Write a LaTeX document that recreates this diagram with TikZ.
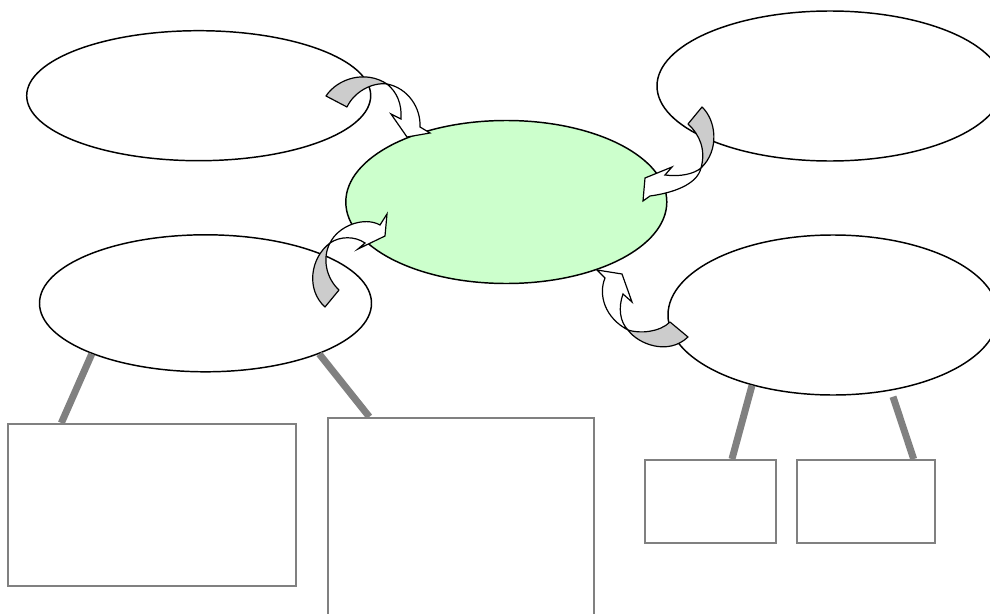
\documentclass[tikz,border=0pt]{standalone}
\usetikzlibrary{shapes.geometric,calc}
\definecolor{bubblegreen}{HTML}{CCFFCC}
\definecolor{foldgray}{HTML}{CCCCCC}
\definecolor{stemgray}{HTML}{808080}
\begin{document}
\begin{tikzpicture}[x=0.75pt,y=-0.75pt,
    bubble/.style={ellipse, draw, line width=1.1pt, inner sep=0pt},
    box/.style={rectangle, draw=stemgray, line width=1.5pt, inner sep=0pt},
    stem/.style={draw=stemgray, line width=5.25pt},
    back/.style={draw, fill=foldgray, line width=0.9pt, line join=round},
    front/.style={draw, fill=white, line width=0.9pt}]
    \useasboundingbox (0,0) rectangle (990,614);
    \node[bubble, minimum width=258pt, minimum height=97.5pt] (tl) at (198.7,95.7) {};
    \node[bubble, minimum width=259.5pt, minimum height=112.5pt] (tr) at (830,86) {};
    \node[bubble, fill=bubblegreen, minimum width=240.75pt, minimum height=122.25pt] (hub) at (506.3,202) {};
    \node[bubble, minimum width=249pt, minimum height=102.75pt] (ml) at (205.5,303.3) {};
    \node[bubble, minimum width=247.5pt, minimum height=120pt] (mr) at (833,315) {};
    \node[box, minimum width=215.8pt, minimum height=121.5pt] (b1) at (152.2,505) {};
    \node[box, minimum width=199.3pt, minimum height=166.7pt] (b2) at (461.2,529) {};
    \node[box, minimum width=98pt, minimum height=62.5pt] (b3) at (710.3,501.7) {};
    \node[box, minimum width=103.7pt, minimum height=62.5pt] (b4) at (865.8,501.7) {};
    \draw[stem] (ml.204) -- ($(b1.north west)+(54,0)$);
    \draw[stem] (ml.336) -- ($(b2.north west)+(42,0)$);
    \draw[stem] (mr.221) -- ($(b3.north west)+(88,0)$);
    \draw[stem] ($(mr.south)+(60,1)$) -- ($(b4.north west)+(118,0)$);
    \draw[back] (326,96) .. controls (338,78) and (366,70) .. (387,84)
        .. controls (372,82) and (354,92) .. (347,107) -- cycle;
    \draw[front] (387,84) .. controls (408,88) and (421,108) .. (420,127) -- (430,133) -- (407,137)
        -- (391,114) -- (401,119) .. controls (402,104) and (397,92) .. (387,84) -- cycle;
    \draw[back] (702,107) .. controls (716,120) and (720,150) .. (701,168)
        .. controls (706,150) and (700,135) .. (688,124) -- cycle;
    \draw[front] (701,168) .. controls (697,185) and (672,193) .. (650,196) -- (643,201) -- (645,178)
        -- (672,167) -- (665,175) .. controls (680,177) and (694,174) .. (701,168) -- cycle;
    \draw[back] (325,307) .. controls (306,290) and (310,258) .. (330,243)
        .. controls (322,258) and (326,278) .. (339,290) -- cycle;
    \draw[front] (330,243) .. controls (338,226) and (364,216) .. (380,225) -- (387,214) -- (385,236)
        -- (358,249) -- (365,243) .. controls (355,236) and (340,236) .. (330,243) -- cycle;
    \draw[back] (670,322) .. controls (660,332) and (640,334) .. (628,330)
        .. controls (638,344) and (668,356) .. (688,337) -- cycle;
    \draw[front] (628,330) .. controls (605,318) and (598,295) .. (605,278) -- (597,270) -- (622,274)
        -- (632,302) -- (623,294) .. controls (618,308) and (620,322) .. (628,330) -- cycle;
\end{tikzpicture}
\end{document}
